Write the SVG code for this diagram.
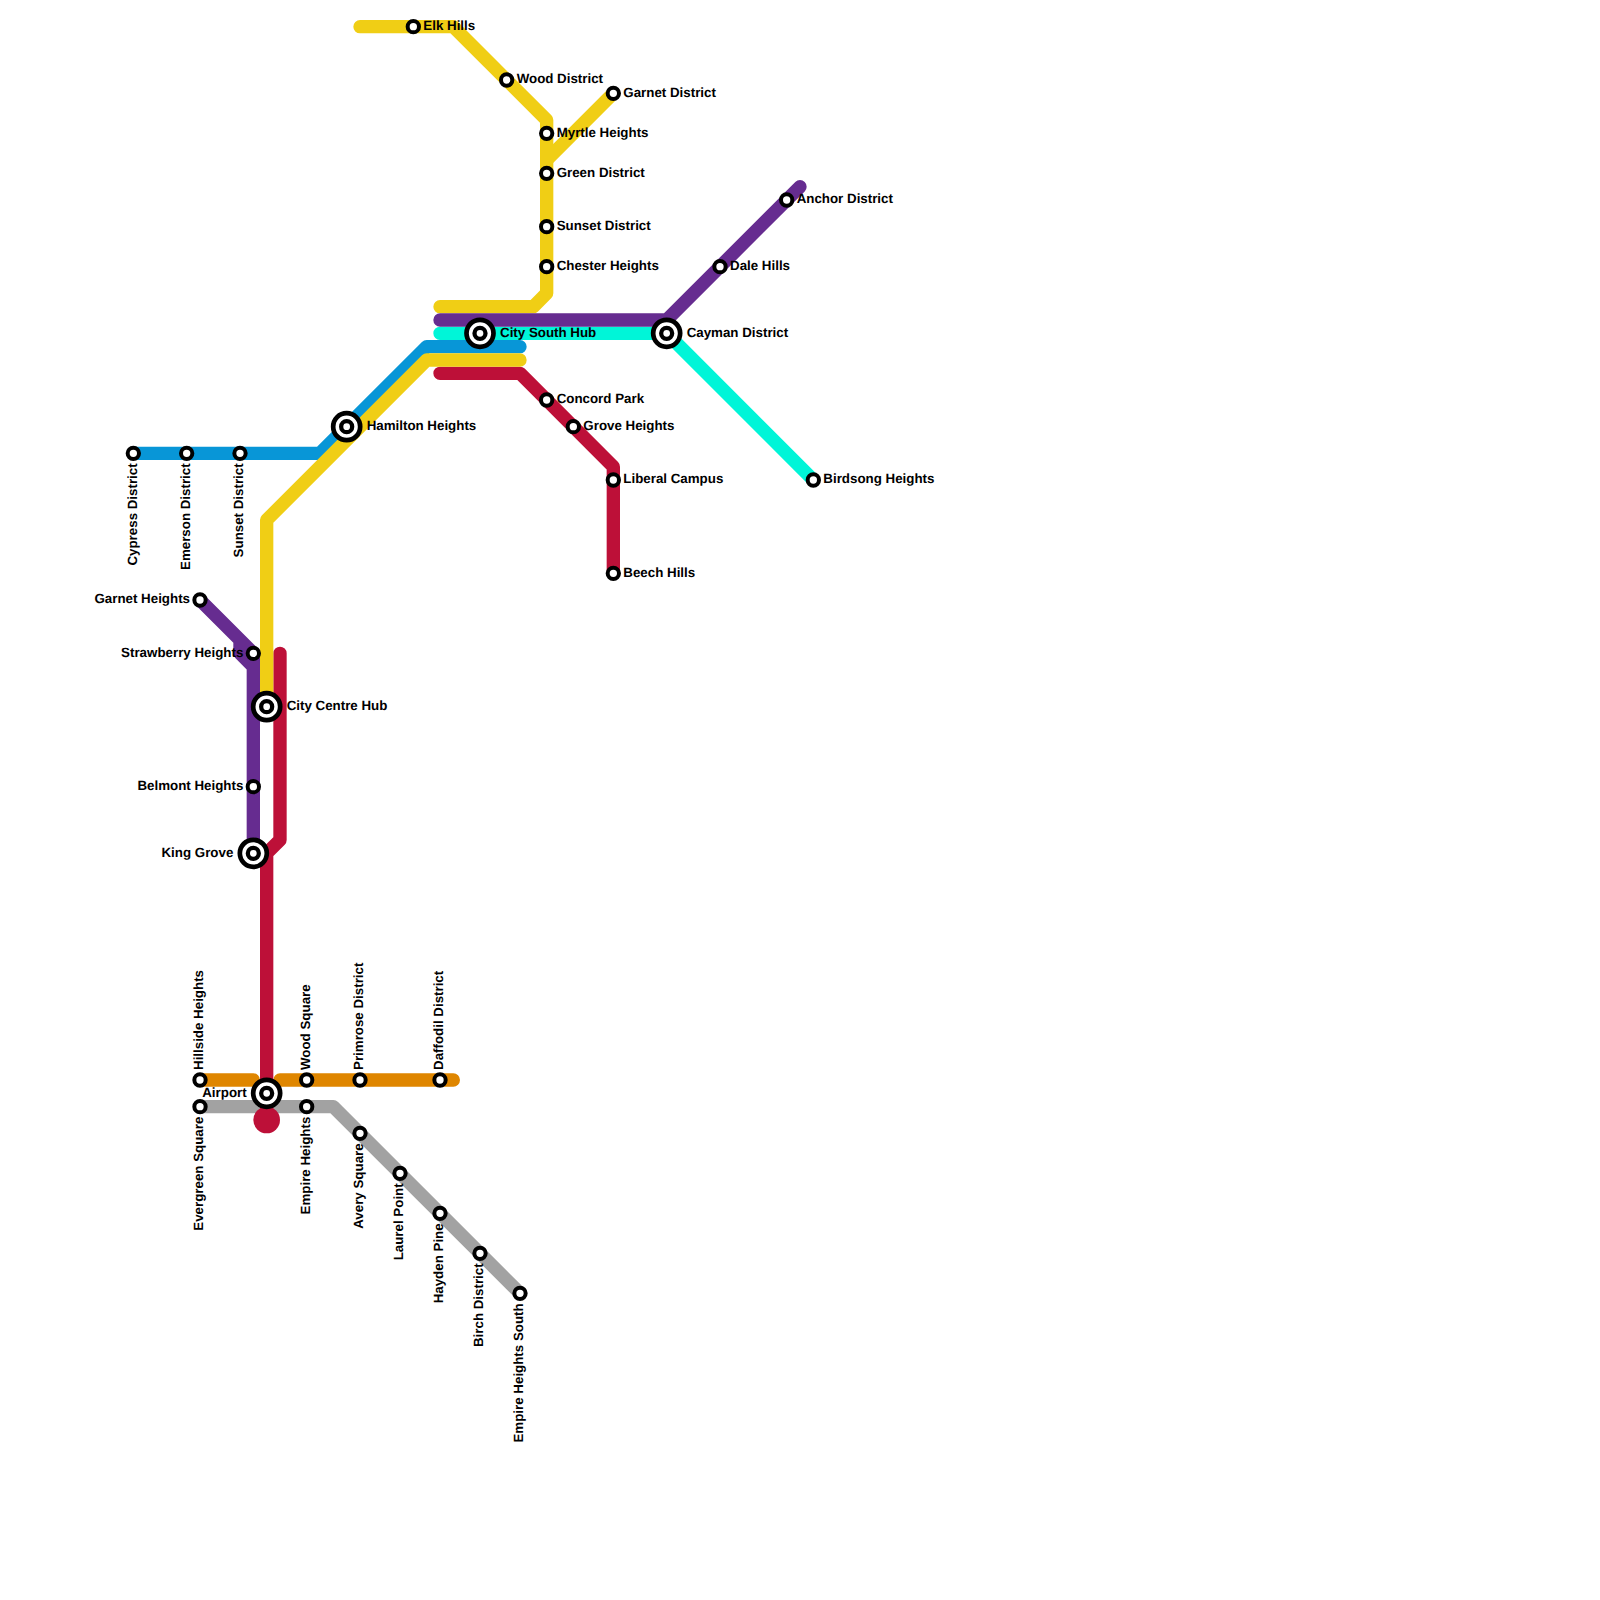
<svg xmlns="http://www.w3.org/2000/svg" width="1600" height="1600" viewBox="0 0 1600 1600">
<style>
.l{fill:none;stroke-width:13.33;stroke-linecap:round;stroke-linejoin:round}
.s{fill:#fff;stroke:#000;stroke-width:4}
.h{fill:#fff;stroke:#000;stroke-width:4.7}
.i{fill:#fff;stroke:#000;stroke-width:4.3}
text{font-family:"Liberation Sans",Arial,sans-serif;font-size:13.33px;font-weight:700;fill:#000;text-rendering:geometricPrecision}
.e{text-anchor:end}
</style>
<defs>
<g id="st"><circle class="s" r="5.67"/></g>
<g id="hub"><circle class="h" r="13.5"/><circle class="i" r="5.5"/></g>
</defs>
<rect width="1600" height="1600" fill="#fff"/>
<g id="connectors">
<path class="l" stroke="#a2a2a2" d="M200 1106.67H333.33L520 1293.33"/>
<path class="l" stroke="#df8600" d="M200 1080H253.33M280 1080H453.33"/>
<path class="l" stroke="#bd1038" d="M280 653.33V840L266.67 853.33V1120"/>
<circle cx="266.67" cy="1120" r="13.33" fill="#bd1038"/>
<path class="l" stroke="#bd1038" d="M440 373.33H520L613.33 466.67V573.33"/>
<path class="l" stroke="#00f5d8" d="M440 333.33H666.67L813.33 480"/>
<path class="l" stroke="#0896d7" d="M133.33 453.33H320L426.67 346.67H520"/>
<path class="l" stroke="#f0ce15" d="M520 360H426.67L266.67 520V706.67"/>
<path class="l" stroke="#f0ce15" d="M360 26.67H453.33L546.67 120V293.33L533.33 306.67H440"/>
<path class="l" stroke="#f0ce15" d="M613.33 93.33L546.67 160"/>
<path class="l" stroke="#662c90" d="M440 320H666.67L800 186.67"/>
<path class="l" stroke="#662c90" d="M200 600L253.33 653.33V853.33M240 640V653.33L253.33 666.67"/>
</g>
<g id="n-elk-hills"><use href="#st" x="413.33" y="26.67"/><text x="423.33" y="30">Elk Hills</text></g>
<g id="n-wood-district"><use href="#st" x="506.67" y="80"/><text x="516.67" y="83.33">Wood District</text></g>
<g id="n-garnet-district"><use href="#st" x="613.33" y="93.33"/><text x="623.33" y="96.67">Garnet District</text></g>
<g id="n-myrtle-heights"><use href="#st" x="546.67" y="133.33"/><text x="556.67" y="136.67">Myrtle Heights</text></g>
<g id="n-green-district"><use href="#st" x="546.67" y="173.33"/><text x="556.67" y="176.67">Green District</text></g>
<g id="n-sunset-district"><use href="#st" x="546.67" y="226.67"/><text x="556.67" y="230">Sunset District</text></g>
<g id="n-chester-heights"><use href="#st" x="546.67" y="266.67"/><text x="556.67" y="270">Chester Heights</text></g>
<g id="n-anchor-district"><use href="#st" x="786.67" y="200"/><text x="796.67" y="203.33">Anchor District</text></g>
<g id="n-dale-hills"><use href="#st" x="720" y="266.67"/><text x="730" y="270">Dale Hills</text></g>
<g id="n-city-south-hub"><use href="#hub" x="480" y="333.33"/><text x="500" y="336.67">City South Hub</text></g>
<g id="n-cayman-district"><use href="#hub" x="666.67" y="333.33"/><text x="686.67" y="336.67">Cayman District</text></g>
<g id="n-hamilton-heights"><use href="#hub" x="346.67" y="426.67"/><text x="366.67" y="430">Hamilton Heights</text></g>
<g id="n-concord-park"><use href="#st" x="546.67" y="400"/><text x="556.67" y="403.33">Concord Park</text></g>
<g id="n-grove-heights"><use href="#st" x="573.33" y="426.67"/><text x="583.33" y="430">Grove Heights</text></g>
<g id="n-liberal-campus"><use href="#st" x="613.33" y="480"/><text x="623.33" y="483.33">Liberal Campus</text></g>
<g id="n-beech-hills"><use href="#st" x="613.33" y="573.33"/><text x="623.33" y="576.67">Beech Hills</text></g>
<g id="n-birdsong-heights"><use href="#st" x="813.33" y="480"/><text x="823.33" y="483.33">Birdsong Heights</text></g>
<g id="n-cypress-district"><use href="#st" x="133.33" y="453.33"/><text class="e" transform="translate(136.67 463.33) rotate(-90)">Cypress District</text></g>
<g id="n-emerson-district"><use href="#st" x="186.67" y="453.33"/><text class="e" transform="translate(190 463.33) rotate(-90)">Emerson District</text></g>
<g id="n-sunset-district-w"><use href="#st" x="240" y="453.33"/><text class="e" transform="translate(243.33 463.33) rotate(-90)">Sunset District</text></g>
<g id="n-garnet-heights"><use href="#st" x="200" y="600"/><text class="e" x="190" y="603.33">Garnet Heights</text></g>
<g id="n-strawberry-heights"><use href="#st" x="253.33" y="653.33"/><text class="e" x="243.33" y="656.67">Strawberry Heights</text></g>
<g id="n-city-centre-hub"><use href="#hub" x="266.67" y="706.67"/><text x="286.67" y="710">City Centre Hub</text></g>
<g id="n-belmont-heights"><use href="#st" x="253.33" y="786.67"/><text class="e" x="243.33" y="790">Belmont Heights</text></g>
<g id="n-king-grove"><use href="#hub" x="253.33" y="853.33"/><text class="e" x="233.33" y="856.67">King Grove</text></g>
<g id="n-hillside-heights"><use href="#st" x="200" y="1080"/><text transform="translate(203.33 1070) rotate(-90)">Hillside Heights</text></g>
<g id="n-wood-square"><use href="#st" x="306.67" y="1080"/><text transform="translate(310 1070) rotate(-90)">Wood Square</text></g>
<g id="n-primrose-district"><use href="#st" x="360" y="1080"/><text transform="translate(363.33 1070) rotate(-90)">Primrose District</text></g>
<g id="n-daffodil-district"><use href="#st" x="440" y="1080"/><text transform="translate(443.33 1070) rotate(-90)">Daffodil District</text></g>
<g id="n-airport"><use href="#hub" x="266.67" y="1093.33"/><text class="e" x="246.67" y="1096.67">Airport</text></g>
<g id="n-evergreen-square"><use href="#st" x="200" y="1106.67"/><text class="e" transform="translate(203.33 1116.67) rotate(-90)">Evergreen Square</text></g>
<g id="n-empire-heights"><use href="#st" x="306.67" y="1106.67"/><text class="e" transform="translate(310 1116.67) rotate(-90)">Empire Heights</text></g>
<g id="n-avery-square"><use href="#st" x="360" y="1133.33"/><text class="e" transform="translate(363.33 1143.33) rotate(-90)">Avery Square</text></g>
<g id="n-laurel-point"><use href="#st" x="400" y="1173.33"/><text class="e" transform="translate(403.33 1183.33) rotate(-90)">Laurel Point</text></g>
<g id="n-hayden-pine"><use href="#st" x="440" y="1213.33"/><text class="e" transform="translate(443.33 1223.33) rotate(-90)">Hayden Pine</text></g>
<g id="n-birch-district"><use href="#st" x="480" y="1253.33"/><text class="e" transform="translate(483.33 1263.33) rotate(-90)">Birch District</text></g>
<g id="n-empire-heights-south"><use href="#st" x="520" y="1293.33"/><text class="e" transform="translate(523.33 1303.33) rotate(-90)">Empire Heights South</text></g>
</svg>
